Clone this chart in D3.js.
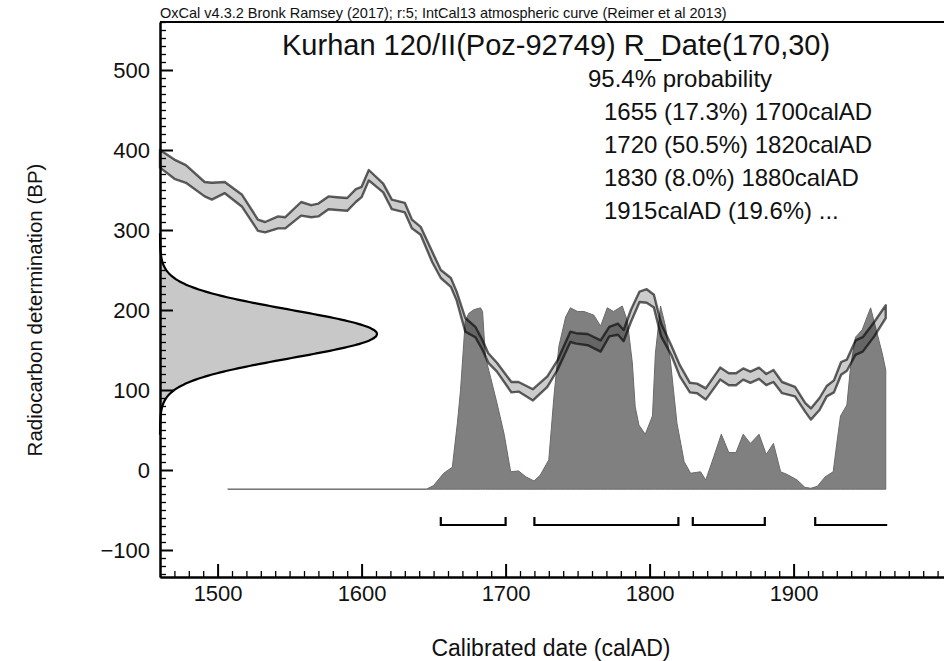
<!DOCTYPE html>
<html>
<head>
<meta charset="utf-8">
<script src="https://cdn.jsdelivr.net/npm/d3@7"></script>
<style>
  body { margin: 0; background: #fff; }
  text { font-family: "Liberation Sans", Arial, Helvetica, sans-serif; fill: #111; }
</style>
</head>
<body>
<svg id="chart" width="944" height="661"></svg>
<script>
// IntCal13 atmospheric calibration curve, upper / lower 1-sigma envelope (BP)
const curveYears = [1460, 1470, 1478, 1491, 1496, 1505, 1517, 1528, 1533, 1542, 1547, 1558, 1565, 1570,
  1577, 1583, 1590, 1596, 1600, 1605, 1615, 1621, 1630, 1635, 1641, 1649, 1655, 1662, 1666, 1672,
  1679, 1684, 1688, 1694, 1704, 1709, 1719, 1729, 1736, 1745, 1749, 1757, 1766, 1772, 1778, 1782,
  1787, 1793, 1798, 1803, 1808, 1815, 1821, 1828, 1833, 1839, 1849, 1855, 1860, 1865, 1870, 1876,
  1881, 1886, 1892, 1901, 1908, 1912, 1918, 1923, 1928, 1933, 1937, 1943, 1948, 1956, 1964];
const curveUpper = [400, 388, 381, 360, 359, 360, 344, 313, 310, 317, 316, 335, 331, 333,
  342, 341, 340, 351, 354, 375, 358, 338, 334, 313, 304, 273, 250, 240, 223, 190,
  179, 162, 146, 134, 110, 110, 101, 117, 137, 173, 171, 170, 162, 179, 183, 175,
  200, 223, 226, 219, 183, 156, 131, 109, 108, 102, 128, 121, 121, 127, 123, 128,
  120, 125, 110, 104, 84, 77, 90, 105, 112, 135, 138, 162, 166, 185, 206];
const curveLower = [378, 364, 359, 342, 338, 346, 329, 299, 297, 302, 302, 318, 316, 317,
  326, 325, 324, 335, 341, 362, 347, 326, 322, 302, 294, 260, 240, 229, 212, 173,
  166, 150, 134, 123, 97, 98, 87, 104, 125, 160, 158, 156, 148, 167, 169, 161,
  185, 210, 209, 203, 167, 144, 117, 97, 96, 88, 113, 106, 106, 113, 109, 114,
  106, 110, 96, 92, 73, 63, 75, 92, 97, 119, 124, 144, 148, 167, 190];

// Calibrated date probability (relative to the maximum)
const probYears = [1507, 1645, 1650, 1657, 1663, 1666.5, 1668.7, 1672, 1674.5, 1678, 1682.6, 1684,
  1686, 1689.6, 1694, 1699, 1703.5, 1709, 1714, 1719.7, 1724, 1730, 1733.5, 1737, 1741.7, 1745,
  1750, 1754.4, 1761.3, 1766, 1770.6, 1775, 1781, 1784.5, 1788, 1790, 1792.6, 1797, 1802, 1804,
  1807.6, 1811, 1814.6, 1819, 1824, 1828.5, 1835.4, 1839, 1844.7, 1849.8, 1855, 1860, 1865, 1870,
  1876, 1881, 1886, 1891, 1895.6, 1902.5, 1907.8, 1912, 1916.5, 1922, 1927.5, 1930, 1932.6, 1937,
  1939.6, 1943, 1947.6, 1953.5, 1958, 1961.6, 1964, 1964];
const probValues = [0, 0, 0.02, 0.087, 0.12, 0.36, 0.54, 0.92, 0.96, 0.98, 0.99, 0.97,
  0.72, 0.61, 0.47, 0.30, 0.095, 0.10, 0.068, 0.045, 0.076, 0.16, 0.50, 0.78, 0.94, 0.99,
  0.97, 0.97, 0.95, 0.89, 0.99, 0.97, 1.0, 0.92, 0.69, 0.45, 0.35, 0.30, 0.40, 0.74,
  1.0, 0.89, 0.69, 0.36, 0.15, 0.087, 0.095, 0.05, 0.18, 0.30, 0.20, 0.20, 0.30, 0.25,
  0.30, 0.19, 0.25, 0.095, 0.08, 0.05, 0.01, 0.005, 0.016, 0.068, 0.095, 0.25, 0.40, 0.46,
  0.67, 0.83, 0.87, 0.99, 0.85, 0.74, 0.65, 0];

// Radiocarbon measurement R_Date(170,30)
const rDateMean = 170;
const rDateSigma = 30;

// 95.4% probability ranges
const rangeFrom = [1655, 1720, 1830, 1915];
const rangeTo = [1700, 1820, 1880, 1965];
const rangeOpenEnd = [false, false, false, true];
const rangeLines = ["1655 (17.3%) 1700calAD", "1720 (50.5%) 1820calAD",
  "1830 (8.0%) 1880calAD", "1915calAD (19.6%) ..."];

// Axis ticks
const xMajorTicks = [1500, 1600, 1700, 1800, 1900];
const yMajorTicks = [-100, 0, 100, 200, 300, 400, 500];

const headerText = "OxCal v4.3.2 Bronk Ramsey (2017); r:5; IntCal13 atmospheric curve (Reimer et al 2013)";
const titleText = "Kurhan 120/II(Poz-92749) R_Date(170,30)";
const probHeading = "95.4% probability";
const xLabel = "Calibrated date (calAD)";
const yLabel = "Radiocarbon determination (BP)";

// ---- layout ----
const svg = d3.select("#chart");
const plotLeft = 160, plotTop = 22, plotBottom = 577;
const plotRight = plotLeft + (2005 - 1460) * 1.44;

const x = d3.scaleLinear().domain([1460, 2005]).range([plotLeft, plotRight]);
const y = d3.scaleLinear().domain([-133.75, 560]).range([plotBottom, plotTop]);

// probability height scale for the calibrated distribution
const py = d3.scaleLinear().domain([0, 1]).range([y(-24), y(205)]);
// horizontal extent of the measurement distribution
const gx = d3.scaleLinear().domain([0, 1]).range([plotLeft, plotLeft + 217]);

const plot = svg.append("g");

// Measurement (radiocarbon) distribution on the BP axis
const bpPts = d3.range(rDateMean - 4.2 * rDateSigma, rDateMean + 4.2 * rDateSigma + 0.5, 1);
const dens = bpPts.map(b => ({ b, d: Math.exp(-0.5 * Math.pow((b - rDateMean) / rDateSigma, 2)) }));
plot.append("path")
  .datum(dens)
  .attr("d", d3.area().x0(plotLeft).x1(p => gx(p.d)).y(p => y(p.b)).curve(d3.curveBasis))
  .attr("fill", "#c8c8c8");
plot.append("path")
  .datum(dens)
  .attr("d", d3.line().x(p => gx(p.d)).y(p => y(p.b)).curve(d3.curveBasis))
  .attr("fill", "none").attr("stroke", "#000").attr("stroke-width", 2.2);

// Calibrated probability distribution
const prob = probYears.map((yr, i) => ({ yr, p: probValues[i] }));
plot.append("path")
  .datum(prob)
  .attr("d", d3.area().x(p => x(p.yr)).y0(py(0)).y1(p => py(p.p)))
  .attr("fill", "#808080")
  .attr("stroke", "#6a6a6a").attr("stroke-width", 1);

// Calibration curve envelope
const band = curveYears.map((yr, i) => ({ yr, hi: curveUpper[i], lo: curveLower[i] }));
const bandPath = d3.path();
band.forEach((d, i) => i ? bandPath.lineTo(x(d.yr), y(d.hi)) : bandPath.moveTo(x(d.yr), y(d.hi)));
band.slice().reverse().forEach(d => bandPath.lineTo(x(d.yr), y(d.lo)));
bandPath.closePath();
plot.append("path")
  .attr("d", bandPath.toString())
  .attr("fill", "rgba(0,0,0,0.2)")
  .attr("stroke", "rgba(0,0,0,0.62)")
  .attr("stroke-width", 2.4)
  .attr("stroke-linejoin", "round");

// 95.4% range brackets
const bracketY = 525, bracketTick = 8;
rangeFrom.forEach((f, i) => {
  const p = d3.path();
  p.moveTo(x(f), bracketY - bracketTick);
  p.lineTo(x(f), bracketY);
  p.lineTo(x(rangeTo[i]), bracketY);
  if (!rangeOpenEnd[i]) p.lineTo(x(rangeTo[i]), bracketY - bracketTick);
  plot.append("path").attr("d", p.toString())
    .attr("fill", "none").attr("stroke", "#000").attr("stroke-width", 2.2);
});

// ---- axes ----
const xMinor = d3.range(1470, 2005, 10).filter(v => !xMajorTicks.includes(v));
const yMinor = d3.range(-130, 561, 10).filter(v => !yMajorTicks.includes(v));

function styleAxis(g) {
  g.select(".domain").attr("stroke", "#000").attr("stroke-width", 2);
  g.selectAll(".tick line").attr("stroke", "#000").attr("stroke-width", 1.3);
  g.selectAll(".tick text").attr("font-size", 22).attr("fill", "#111")
    .attr("font-family", "\"Liberation Sans\", Arial, sans-serif");
}

svg.append("g").attr("transform", `translate(0,${plotBottom})`)
  .call(d3.axisBottom(x).tickValues(xMinor).tickSizeInner(-6).tickSizeOuter(0).tickFormat(""))
  .call(styleAxis);
svg.append("g").attr("transform", `translate(0,${plotBottom})`)
  .call(d3.axisBottom(x).tickValues(xMajorTicks).tickSizeInner(-13).tickSizeOuter(0)
    .tickPadding(8).tickFormat(d3.format("d")))
  .call(styleAxis)
  .call(g => g.selectAll(".tick line").attr("stroke-width", 2));

svg.append("g").attr("transform", `translate(${plotLeft},0)`)
  .call(d3.axisLeft(y).tickValues(yMinor).tickSizeInner(-6).tickSizeOuter(0).tickFormat(""))
  .call(styleAxis);
svg.append("g").attr("transform", `translate(${plotLeft},0)`)
  .call(d3.axisLeft(y).tickValues(yMajorTicks).tickSizeInner(-13).tickSizeOuter(0)
    .tickPadding(10).tickFormat(d3.format("d")))
  .call(styleAxis)
  .call(g => g.selectAll(".tick line").attr("stroke-width", 2));

// top frame
svg.append("line").attr("x1", plotLeft).attr("x2", plotRight).attr("y1", plotTop).attr("y2", plotTop)
  .attr("stroke", "#000").attr("stroke-width", 2);

// ---- texts ----
svg.append("text").attr("x", plotLeft).attr("y", 18).attr("font-size", 14.5).text(headerText);
svg.append("text").attr("x", 282).attr("y", 55).attr("font-size", 29).text(titleText);
svg.append("text").attr("x", 588).attr("y", 87).attr("font-size", 24).text(probHeading);
rangeLines.forEach((t, i) => {
  svg.append("text").attr("x", 604).attr("y", 120 + i * 33).attr("font-size", 24).text(t);
});
svg.append("text").attr("x", 551).attr("y", 656).attr("text-anchor", "middle")
  .attr("font-size", 23).text(xLabel);
svg.append("text").attr("transform", "translate(42,310) rotate(-90)")
  .attr("text-anchor", "middle").attr("font-size", 20.5).text(yLabel);
</script>
</body>
</html>
